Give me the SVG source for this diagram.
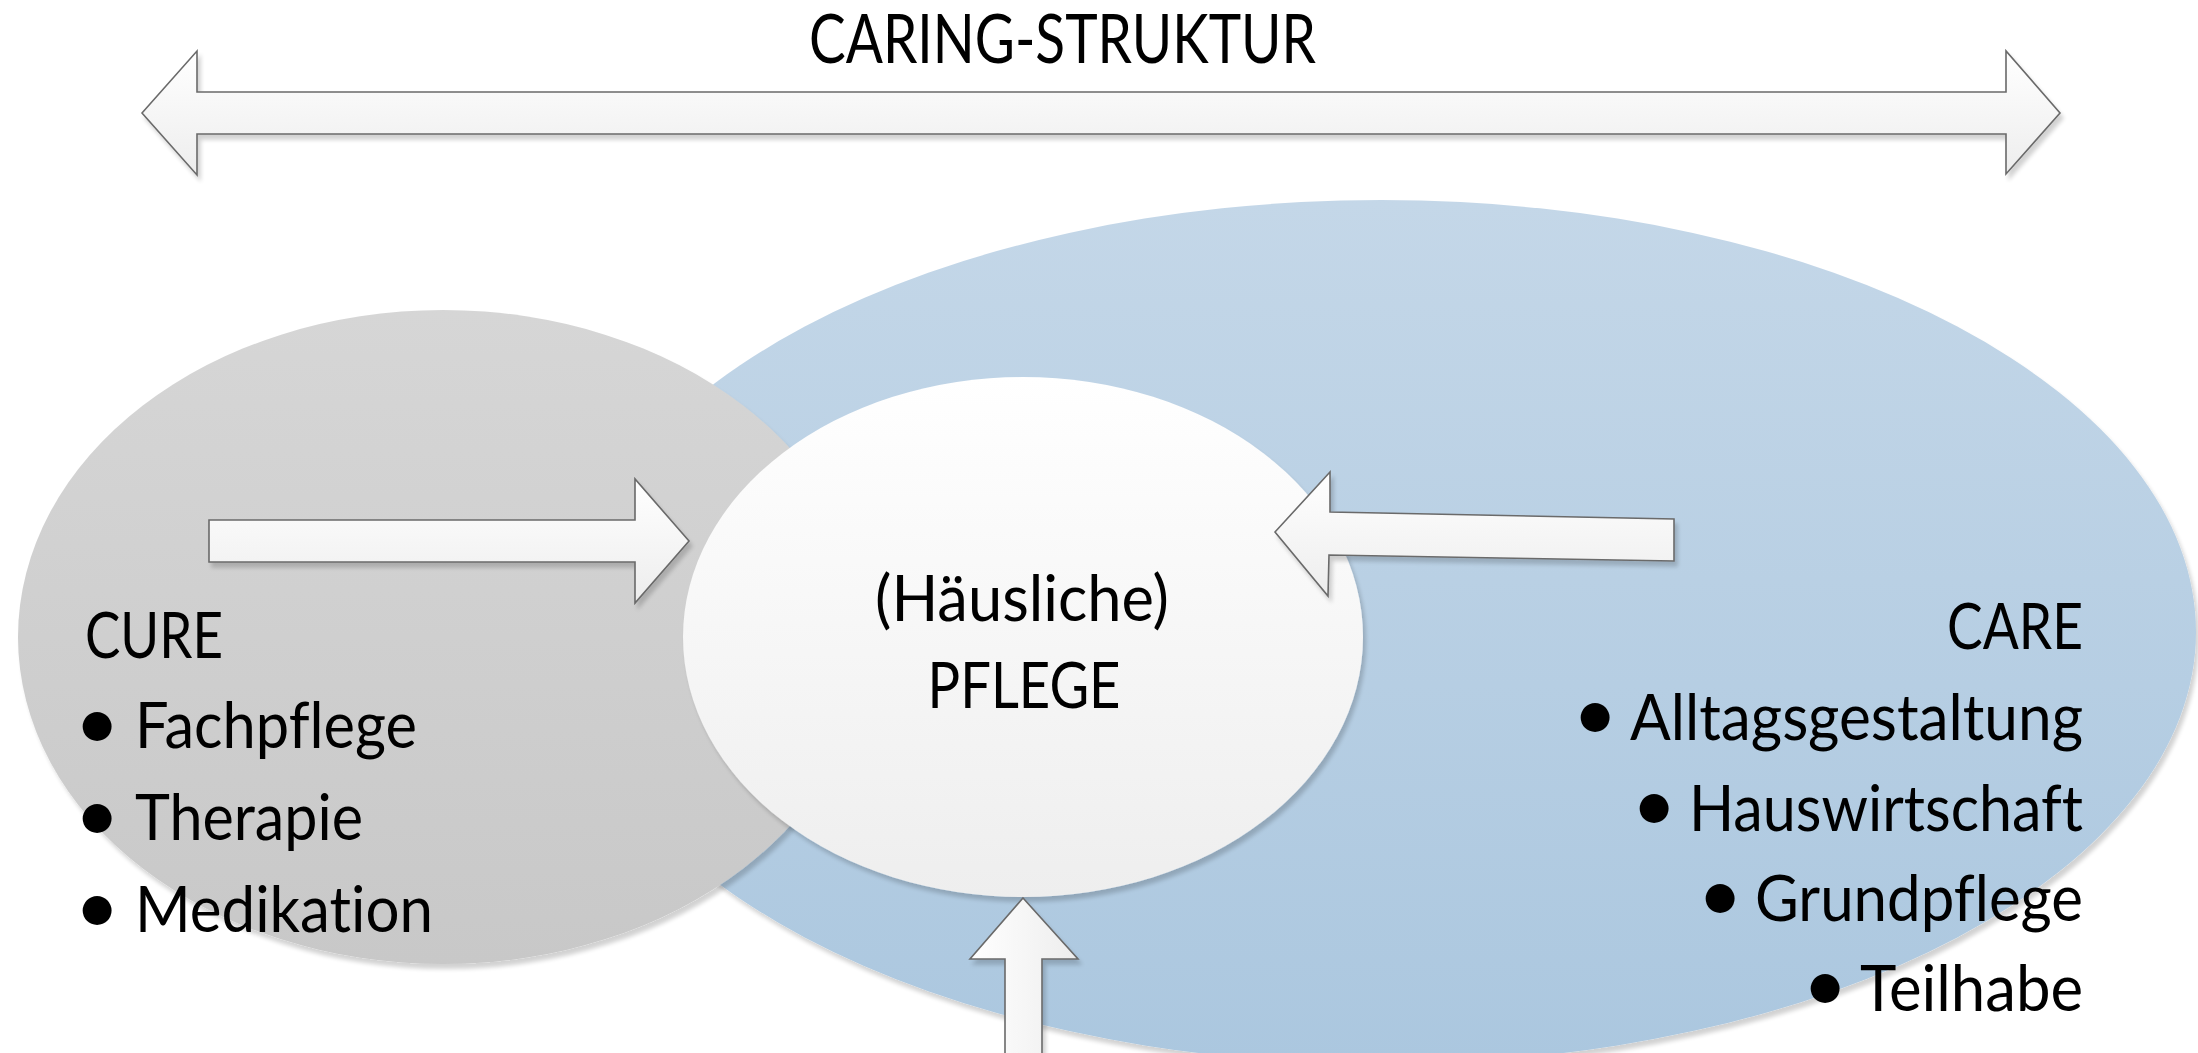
<svg xmlns="http://www.w3.org/2000/svg" width="2198" height="1053" viewBox="0 0 2198 1053">
<style>
.t{font-family:"Lato","Liberation Sans",sans-serif;font-size:63px;fill:#000;font-variant-ligatures:none}
.title{font-size:67px}
.b{font-size:78px}
.arrow{stroke:#6a6a6a;stroke-width:1.6;stroke-linejoin:miter}
.ah{fill:url(#gArrH)}
.av{fill:url(#gArrV)}
</style>
<defs>
<linearGradient id="gBlue" x1="0" y1="0" x2="0" y2="1"><stop offset="0" stop-color="#c4d7e8"/><stop offset="1" stop-color="#abc7df"/></linearGradient>
<linearGradient id="gGray" x1="0" y1="0" x2="0" y2="1"><stop offset="0" stop-color="#d6d6d6"/><stop offset="1" stop-color="#c8c8c8"/></linearGradient>
<linearGradient id="gWhite" x1="0" y1="0" x2="0" y2="1"><stop offset="0" stop-color="#ffffff"/><stop offset="1" stop-color="#eeeeee"/></linearGradient>
<linearGradient id="gArrH" x1="0" y1="0" x2="0" y2="1"><stop offset="0" stop-color="#ffffff"/><stop offset="1" stop-color="#ededed"/></linearGradient>
<linearGradient id="gArrV" x1="0" y1="0" x2="1" y2="0"><stop offset="0" stop-color="#ffffff"/><stop offset="1" stop-color="#ededed"/></linearGradient>
<filter id="sh" x="-5%" y="-5%" width="112%" height="115%">
<feGaussianBlur in="SourceAlpha" stdDeviation="2"/>
<feOffset dx="3" dy="5" result="o"/>
<feComponentTransfer><feFuncA type="linear" slope="0.18"/></feComponentTransfer>
<feMerge><feMergeNode/><feMergeNode in="SourceGraphic"/></feMerge>
</filter>
</defs>

<g id="care">
<ellipse cx="1381" cy="632" rx="815" ry="432" fill="url(#gBlue)" filter="url(#sh)"/>
</g>
<g id="cure">
<ellipse cx="443" cy="637" rx="425" ry="327" fill="url(#gGray)" filter="url(#sh)"/>
</g>
<g id="pflege">
<ellipse cx="1023" cy="637" rx="340" ry="260" fill="url(#gWhite)" filter="url(#sh)"/>
<text class="t" x="1022" y="621" text-anchor="middle" textLength="294" lengthAdjust="spacingAndGlyphs">(Häusliche)</text>
<text class="t" x="1024" y="708" text-anchor="middle" textLength="193" lengthAdjust="spacingAndGlyphs">PFLEGE</text>
</g>

<g id="caring-struktur">
<polygon class="arrow ah" filter="url(#sh)" points="142,113 197,51 197,92 2006,92 2006,51 2060,113 2006,174 2006,134 197,134 197,175"/>
<text class="t title" x="809" y="63" textLength="507" lengthAdjust="spacingAndGlyphs">CARING-STRUKTUR</text>
</g>

<g id="cure-text">
<text class="t" x="85" y="658" textLength="138" lengthAdjust="spacingAndGlyphs">CURE</text>
<text class="t"><tspan class="b" x="97" y="750" text-anchor="middle">•</tspan><tspan x="135" y="748" textLength="282" lengthAdjust="spacingAndGlyphs">Fachpflege</tspan></text>
<text class="t"><tspan class="b" x="97" y="842" text-anchor="middle">•</tspan><tspan x="135" y="840" textLength="228" lengthAdjust="spacingAndGlyphs">Therapie</tspan></text>
<text class="t"><tspan class="b" x="97" y="934" text-anchor="middle">•</tspan><tspan x="135" y="932" textLength="298" lengthAdjust="spacingAndGlyphs">Medikation</tspan></text>
</g>

<g id="care-text">
<text class="t" x="2083" y="649" text-anchor="end" textLength="136" lengthAdjust="spacingAndGlyphs">CARE</text>
<text class="t"><tspan class="b" x="1595" y="741" text-anchor="middle">•</tspan><tspan x="1630" y="740" textLength="453" lengthAdjust="spacingAndGlyphs">Alltagsgestaltung</tspan></text>
<text class="t"><tspan class="b" x="1654" y="832" text-anchor="middle">•</tspan><tspan x="1689" y="831" textLength="394" lengthAdjust="spacingAndGlyphs">Hauswirtschaft</tspan></text>
<text class="t"><tspan class="b" x="1720" y="922" text-anchor="middle">•</tspan><tspan x="1755" y="921" textLength="328" lengthAdjust="spacingAndGlyphs">Grundpflege</tspan></text>
<text class="t"><tspan class="b" x="1825" y="1012" text-anchor="middle">•</tspan><tspan x="1860" y="1011" textLength="223" lengthAdjust="spacingAndGlyphs">Teilhabe</tspan></text>
</g>

<g id="connectors">
<polygon class="arrow ah" filter="url(#sh)" points="209,520 635,520 635,479 689,541 635,603 635,562 209,562"/>
<polygon class="arrow ah" filter="url(#sh)" points="1275,532 1330,472 1330,512 1674,519 1674,561 1329,555 1328,596"/>
<polygon class="arrow av" filter="url(#sh)" points="1023,898 1078,959 1042,959 1042,1060 1005,1060 1005,959 970,959"/>
</g>
</svg>
